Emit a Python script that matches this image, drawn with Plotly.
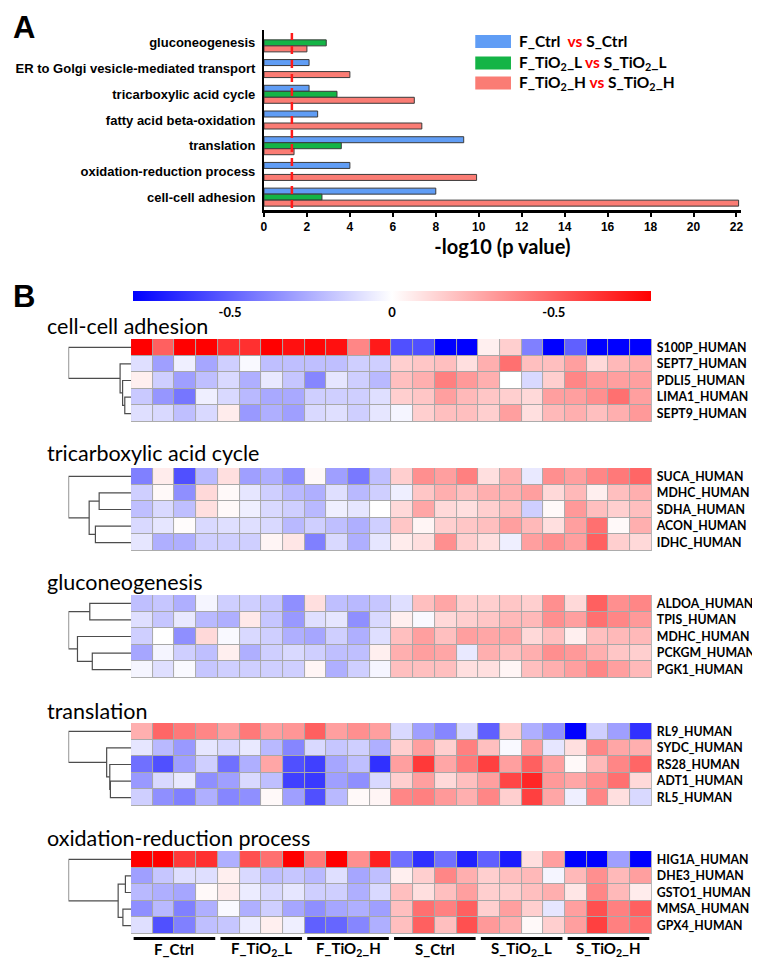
import plotly.graph_objects as go

W, H = 760, 963
OFF = 8  # browser body margin
FW, FH = W - OFF, H - OFF

# ---------------- Panel A data ----------------
terms = ["gluconeogenesis", "ER to Golgi vesicle-mediated transport", "tricarboxylic acid cycle",
         "fatty acid beta-oxidation", "translation", "oxidation-reduction process", "cell-cell adhesion"]
ctrl_vals = [None, 2.1, 2.1, 2.5, 9.3, 4.0, 8.0]
tio2_l_vals = [2.9, None, 3.4, None, 3.6, None, 2.7]
tio2_h_vals = [2.0, 4.0, 7.0, 7.35, 1.4, 9.9, 22.1]
x_ticks = list(range(0, 23, 2))
p_cut = 1.3
legend_names = ["F_Ctrl  <span style='color:#ff0000'>vs</span> S_Ctrl",
                "F_TiO<sub>2</sub>_L <span style='color:#ff0000'>vs</span> S_TiO<sub>2</sub>_L",
                "F_TiO<sub>2</sub>_H <span style='color:#ff0000'>vs</span> S_TiO<sub>2</sub>_H"]
bar_colors = ["#609df5", "#14b446", "#fa7c74"]

# ---------------- Panel B data ----------------
titles = ["cell-cell adhesion", "tricarboxylic acid cycle", "gluconeogenesis", "translation",
          "oxidation-reduction process"]
groups = ["F_Ctrl", "F_TiO<sub>2</sub>_L", "F_TiO<sub>2</sub>_H", "S_Ctrl", "S_TiO<sub>2</sub>_L",
          "S_TiO<sub>2</sub>_H"]

rows_adhesion = ["S100P_HUMAN", "SEPT7_HUMAN", "PDLI5_HUMAN", "LIMA1_HUMAN", "SEPT9_HUMAN"]
vals_adhesion = [
    [0.80, 0.50, 0.80, 0.81, 0.65, 0.65, 0.81, 0.75, 0.78, 0.75, 0.38, 0.72,
     -0.55, -0.55, -0.80, -0.80, 0.05, 0.15, -0.40, -0.80, -0.50, -0.80, -0.80, -0.80],
    [-0.10, -0.30, -0.05, -0.28, -0.15, -0.02, -0.20, -0.20, -0.20, -0.20, -0.15, -0.15,
     0.15, 0.18, 0.20, 0.10, 0.25, 0.45, 0.20, 0.20, 0.30, 0.12, 0.22, 0.25],
    [0.05, -0.15, -0.30, -0.20, -0.12, -0.25, -0.07, -0.18, -0.38, -0.08, -0.15, -0.22,
     0.20, 0.25, 0.40, 0.32, 0.25, 0.00, -0.12, 0.15, 0.38, 0.32, 0.30, 0.30],
    [-0.17, -0.33, -0.43, -0.05, -0.12, -0.22, -0.27, -0.27, -0.15, -0.15, -0.15, -0.10,
     0.15, 0.18, 0.30, 0.22, 0.18, 0.15, 0.12, 0.30, 0.30, 0.35, 0.45, 0.30],
    [-0.10, -0.12, -0.20, -0.12, 0.06, -0.32, -0.25, -0.30, -0.12, -0.10, -0.15, -0.08,
     -0.03, 0.15, 0.20, 0.20, 0.15, 0.30, 0.10, 0.22, 0.25, 0.20, 0.25, 0.32],
]
rows_tca = ["SUCA_HUMAN", "MDHC_HUMAN", "SDHA_HUMAN", "ACON_HUMAN", "IDHC_HUMAN"]
vals_tca = [
    [-0.40, 0.06, -0.55, -0.22, 0.10, -0.30, -0.25, -0.35, 0.02, -0.30, -0.42, -0.20,
     0.15, 0.35, 0.30, 0.40, 0.10, 0.25, -0.07, 0.35, 0.30, 0.38, 0.42, 0.48],
    [-0.15, 0.02, -0.35, 0.12, 0.02, -0.08, -0.15, -0.22, -0.25, -0.10, -0.22, -0.15,
     -0.05, 0.18, 0.25, 0.20, 0.25, 0.25, 0.30, 0.12, 0.22, 0.05, 0.20, 0.25],
    [-0.20, -0.12, -0.20, 0.10, 0.02, -0.05, -0.12, -0.15, -0.22, -0.05, -0.08, 0.00,
     0.12, 0.28, 0.12, 0.10, 0.15, 0.20, -0.15, 0.02, 0.32, 0.20, 0.15, 0.20],
    [-0.12, -0.08, 0.01, -0.12, -0.10, -0.10, -0.12, -0.22, -0.15, -0.20, -0.25, -0.15,
     0.18, 0.03, 0.15, 0.18, 0.20, 0.30, 0.22, 0.10, 0.30, 0.45, 0.02, 0.25],
    [-0.08, -0.25, -0.25, -0.15, -0.15, -0.15, 0.03, 0.08, -0.40, -0.12, -0.25, -0.08,
     0.06, 0.10, 0.35, 0.15, 0.10, -0.05, 0.30, 0.35, 0.30, 0.50, 0.15, 0.12],
]
rows_gluco = ["ALDOA_HUMAN", "TPIS_HUMAN", "MDHC_HUMAN", "PCKGM_HUMAN", "PGK1_HUMAN"]
vals_gluco = [
    [-0.20, -0.18, -0.25, -0.03, -0.15, -0.15, -0.18, -0.35, 0.10, -0.20, -0.22, -0.18,
     -0.10, 0.20, 0.28, 0.15, 0.15, 0.18, 0.15, 0.35, 0.12, 0.50, 0.35, 0.38],
    [-0.10, -0.18, -0.07, -0.22, -0.25, 0.07, -0.18, -0.32, -0.10, -0.08, -0.35, -0.12,
     0.05, -0.02, 0.12, 0.15, 0.18, 0.22, 0.22, 0.35, 0.30, 0.45, 0.38, 0.32],
    [-0.15, 0.00, -0.35, 0.12, -0.02, -0.12, -0.15, -0.25, -0.28, -0.15, -0.25, -0.10,
     0.20, 0.30, 0.20, 0.30, 0.28, 0.28, 0.12, 0.20, 0.05, 0.20, 0.22, 0.22],
    [-0.28, -0.03, -0.15, -0.20, 0.05, -0.25, -0.15, -0.12, -0.15, -0.20, -0.20, 0.05,
     0.25, 0.30, 0.28, -0.07, 0.25, 0.20, 0.25, 0.35, 0.32, 0.25, 0.18, 0.15],
    [-0.03, -0.10, -0.02, -0.18, -0.15, -0.15, -0.15, -0.15, 0.03, -0.25, -0.15, -0.03,
     0.20, 0.20, 0.20, 0.10, 0.10, 0.03, 0.20, 0.25, 0.30, 0.38, 0.30, 0.22],
]
rows_transl = ["RL9_HUMAN", "SYDC_HUMAN", "RS28_HUMAN", "ADT1_HUMAN", "RL5_HUMAN"]
vals_transl = [
    [0.25, 0.48, 0.42, 0.38, 0.30, 0.42, 0.30, 0.33, 0.50, 0.30, 0.35, 0.30,
     -0.12, -0.30, -0.38, -0.12, -0.50, 0.15, -0.25, -0.35, -0.80, -0.15, -0.30, -0.65],
    [-0.08, -0.22, -0.32, -0.08, -0.12, -0.07, -0.22, -0.38, -0.12, -0.18, -0.15, -0.25,
     0.15, 0.30, 0.15, 0.40, 0.20, -0.02, 0.30, -0.08, 0.10, 0.38, 0.28, 0.25],
    [-0.45, -0.55, -0.30, -0.15, -0.45, -0.25, 0.28, -0.55, -0.60, -0.28, -0.20, -0.65,
     0.30, 0.62, 0.28, 0.42, 0.60, 0.30, 0.50, 0.30, 0.02, 0.22, 0.38, 0.48],
    [-0.32, -0.12, -0.07, -0.35, -0.30, -0.12, -0.20, -0.60, -0.62, -0.30, -0.35, -0.12,
     0.15, 0.30, 0.12, 0.20, 0.30, 0.58, 0.68, 0.32, 0.28, 0.35, 0.45, 0.12],
    [-0.15, -0.35, -0.40, -0.25, -0.38, -0.35, 0.02, -0.30, -0.55, -0.22, 0.02, 0.03,
     0.38, 0.40, 0.32, 0.25, 0.38, 0.15, 0.60, 0.28, -0.05, 0.38, 0.10, -0.12],
]
rows_redox = ["HIG1A_HUMAN", "DHE3_HUMAN", "GSTO1_HUMAN", "MMSA_HUMAN", "GPX4_HUMAN"]
vals_redox = [
    [0.81, 0.81, 0.62, 0.65, -0.25, 0.55, 0.45, 0.80, 0.42, 0.81, 0.35, 0.70,
     -0.45, -0.65, -0.45, -0.70, -0.50, -0.72, 0.10, 0.30, -0.80, -0.80, -0.30, -0.81],
    [-0.30, -0.18, -0.10, -0.10, 0.05, -0.12, -0.20, -0.18, -0.22, -0.10, -0.28, -0.20,
     0.05, 0.15, 0.38, 0.25, 0.15, 0.20, 0.22, -0.03, 0.22, 0.35, 0.22, 0.30],
    [-0.22, -0.25, -0.28, 0.02, 0.06, -0.06, -0.12, -0.08, -0.15, -0.15, -0.25, -0.12,
     0.20, 0.10, 0.20, 0.30, 0.15, 0.15, 0.20, 0.25, 0.08, 0.38, 0.22, 0.06],
    [-0.35, -0.22, -0.40, -0.25, -0.02, -0.25, -0.15, -0.28, -0.35, -0.28, -0.25, -0.30,
     0.20, 0.45, 0.40, 0.50, 0.15, 0.30, 0.15, -0.08, 0.30, 0.55, 0.40, 0.50],
    [-0.10, -0.55, -0.40, -0.20, -0.18, -0.06, 0.05, -0.05, -0.50, -0.48, -0.38, -0.25,
     0.20, 0.50, 0.20, 0.55, 0.32, 0.25, 0.02, 0.15, 0.30, 0.60, 0.40, 0.45],
]
# dendrogram merges: (child_a, child_b, height); ids <5 are rows, >=5 earlier merges
dendro_adhesion = [(3, 4, 0.10), (2, 5, 0.135), (1, 6, 0.175), (0, 7, 1.0)]
dendro_tca = [(1, 2, 0.51), (3, 4, 0.57), (5, 6, 0.67), (0, 7, 1.0)]
dendro_gluco = [(0, 1, 0.66), (3, 4, 0.62), (2, 6, 0.857), (5, 7, 1.0)]
dendro_transl = [(3, 4, 0.33), (2, 5, 0.34), (1, 6, 0.39), (0, 7, 1.0)]
dendro_redox = [(1, 2, 0.09), (3, 4, 0.13), (5, 6, 0.206), (0, 7, 1.0)]

color_lim = 0.8
cb_ticks = [-0.5, 0, 0.5]
cb_ticktext = ["-0.5", "0", "-0.5"]

row_sets = [rows_adhesion, rows_tca, rows_gluco, rows_transl, rows_redox]
val_sets = [vals_adhesion, vals_tca, vals_gluco, vals_transl, vals_redox]
dendros = [dendro_adhesion, dendro_tca, dendro_gluco, dendro_transl, dendro_redox]


# ---------------- layout geometry (window pixels -> paper) ----------------
def px(x):
    return (x - OFF) / FW


def py(y):
    return 1 - (y - OFF) / FH


CAL = "Lato, 'Open Sans', sans-serif"
ARI = "'Liberation Sans', Arial, sans-serif"

fig = go.Figure()

# ---- Panel A bars
for vals, col in zip([ctrl_vals, tio2_l_vals, tio2_h_vals], bar_colors):
    fig.add_trace(go.Bar(y=terms, x=vals, orientation="h",
                         marker=dict(color=col, line=dict(color="#3a3a3a", width=1)),
                         xaxis="x", yaxis="y", showlegend=False))

fig.update_layout(
    barmode="group", bargap=0.3, bargroupgap=0,
    xaxis=dict(domain=[px(263), px(263 + 22.2 * 21.65)], anchor="y", range=[0, 22.2], tickvals=x_ticks,
               ticks="outside", ticklen=4, tickwidth=1.5, tickcolor="black", showline=True, linewidth=2.5,
               linecolor="black", showgrid=False, zeroline=False,
               tickfont=dict(family=ARI, size=12, color="black", weight="bold"),
               title=dict(text="-log10 (p value)", font=dict(family=CAL, size=20, color="black", weight="bold"),
                          standoff=4)),
    yaxis=dict(domain=[py(210), py(30)], anchor="x", categoryorder="array", categoryarray=terms,
               autorange="reversed", showline=True, linewidth=2, linecolor="black", ticks="",
               showgrid=False, tickfont=dict(family=ARI, size=13, color="black", weight="bold"),
               ticklabelstandoff=4),
)

shapes = []
annotations = []
shapes.append(dict(type="line", xref="x", yref="paper", x0=p_cut, x1=p_cut, y0=py(208), y1=py(33),
                   line=dict(color="#ff1a1a", width=2.5, dash="8px,6px")))

# manual legend
leg_y = [41.5, 63, 83]
for name, col, yy in zip(legend_names, bar_colors, leg_y):
    shapes.append(dict(type="rect", xref="paper", yref="paper", x0=px(476), x1=px(512), y0=py(yy + 6.5),
                       y1=py(yy - 6.5), fillcolor=col, line=dict(width=0)))
    annotations.append(dict(text=name, x=px(518), y=py(yy), xref="paper", yref="paper", xanchor="left",
                            yanchor="middle", showarrow=False,
                            font=dict(family=CAL, size=15.5, color="black", weight="bold")))

# panel letters
annotations.append(dict(text="A", x=px(8), y=py(8), xref="paper", yref="paper", xanchor="left", yanchor="top",
                        showarrow=False, font=dict(family=ARI, size=31, color="black", weight="bold")))
annotations.append(dict(text="B", x=px(8), y=py(277), xref="paper", yref="paper", xanchor="left", yanchor="top",
                        showarrow=False, font=dict(family=ARI, size=31, color="black", weight="bold")))

# ---- Panel B heatmaps
tops = [339, 468, 595, 723, 851]
title_y = [326, 453, 582, 711, 838]
hm_h = 83
for k in range(5):
    xi = k + 2
    di = k + 7
    xa, ya, da = f"x{xi}", f"y{xi}", f"x{di}"
    top = tops[k]
    fig.add_trace(go.Heatmap(z=val_sets[k], x=list(range(24)), y=list(range(5)), coloraxis="coloraxis",
                             xgap=1, ygap=1, xaxis=xa, yaxis=ya, hoverinfo="skip"))
    fig.layout[f"xaxis{xi}"] = dict(domain=[px(129), px(654)], anchor=ya, range=[-0.5, 23.5], visible=False)
    fig.layout[f"yaxis{xi}"] = dict(domain=[py(top + hm_h), py(top)], anchor=xa, range=[4.5, -0.5],
                                    side="right", tickvals=list(range(5)), ticktext=row_sets[k], ticks="",
                                    showgrid=False, zeroline=False, showline=False, ticklabelstandoff=4,
                                    tickfont=dict(family=CAL, size=12.3, color="black", weight="bold"))
    fig.layout[f"xaxis{di}"] = dict(domain=[px(66), px(129)], anchor=ya, range=[1.0, 0], visible=False)
    shapes.append(dict(type="rect", xref=xa, yref=ya, x0=-0.5, x1=23.5, y0=-0.5, y1=4.5, layer="below",
                       fillcolor="#a8a8a8", line=dict(color="#b0b0b0", width=1)))
    # dendrogram
    pos = {i: (float(i), 0.0) for i in range(5)}
    xs, ys = [], []
    for m, (a, b, h) in enumerate(dendros[k]):
        ya_, ha = pos[a]
        yb_, hb = pos[b]
        xs += [ha, h, h, hb, None]
        ys += [ya_, ya_, yb_, yb_, None]
        pos[5 + m] = ((ya_ + yb_) / 2, h)
    fig.add_trace(go.Scatter(x=xs, y=ys, mode="lines", line=dict(color="#4d4d4d", width=1.2), xaxis=da,
                             yaxis=ya, showlegend=False, hoverinfo="skip"))
    annotations.append(dict(text=titles[k], x=px(42), y=py(title_y[k]), xref="paper", yref="paper",
                            xanchor="left", yanchor="middle", showarrow=False,
                            font=dict(family=CAL, size=21.5, color="black")))

# group bars and labels under last heatmap
for g, lab in enumerate(groups):
    shapes.append(dict(type="line", xref="x6", yref="paper", x0=4 * g - 0.38, x1=4 * g + 3.38, y0=py(938.5),
                       y1=py(938.5), line=dict(color="black", width=3)))
    annotations.append(dict(text=lab, x=4 * g + 1.5, y=py(949), xref="x6", yref="paper", xanchor="center",
                            yanchor="middle", showarrow=False,
                            font=dict(family=CAL, size=15, color="black", weight="bold")))

fig.update_layout(
    coloraxis=dict(colorscale=[[0, "#0000ff"], [0.5, "#ffffff"], [1, "#ff0000"]], cmin=-color_lim, cmax=color_lim,
                   colorbar=dict(orientation="h", x=px(392), xanchor="center", y=py(291), yanchor="top",
                                 len=518, lenmode="pixels", thickness=10, outlinewidth=0, xpad=0, ypad=0,
                                 tickvals=cb_ticks, ticktext=cb_ticktext, ticks="",
                                 tickfont=dict(family=CAL, size=13, color="black", weight="bold"))),
    shapes=shapes, annotations=annotations,
    width=FW, height=FH, margin=dict(l=0, r=0, t=0, b=0),
    paper_bgcolor="white", plot_bgcolor="white", showlegend=False,
)

fig.write_html("out.html")
